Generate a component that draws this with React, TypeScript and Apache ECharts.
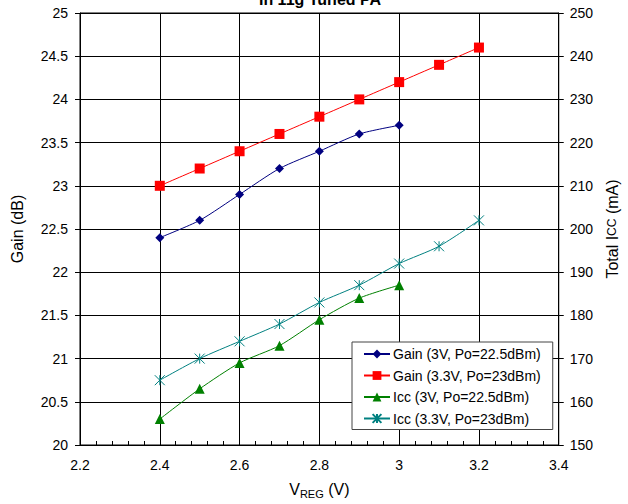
import React, { useEffect, useRef } from "react";
import * as echarts from "echarts";

const vreg = [2.4, 2.5, 2.6, 2.7, 2.8, 2.9, 3.0, 3.1, 3.2];
const gain3V = [22.4, 22.6, 22.9, 23.2, 23.4, 23.6, 23.7];
const gain33V = [23.0, 23.2, 23.4, 23.6, 23.8, 24.0, 24.2, 24.4, 24.6];
const icc3V = [156, 163, 169, 173, 179, 184, 187];
const icc33V = [165, 170, 174, 178, 183, 187, 192, 196, 202];
const seriesNames = [
  "Gain (3V, Po=22.5dBm)",
  "Gain (3.3V, Po=23dBm)",
  "Icc (3V, Po=22.5dBm)",
  "Icc (3.3V, Po=23dBm)",
];
const titleText = "In 11g Tuned PA";

const pair = (ys: number[]) => ys.map((y, i) => [vreg[i], y]);

const FONT = "Liberation Sans, Arial, sans-serif";
const STAR = "path://M0 0L10 10M10 0L0 10M5 0L5 10";

export default function App() {
  const ref = useRef<HTMLDivElement>(null);
  useEffect(() => {
    const chart = echarts.init(ref.current!, null, { renderer: "svg" });
    const mk = (
      name: string,
      data: number[][],
      color: string,
      symbol: string,
      size: number,
      yAxisIndex: number
    ) => ({
      type: "line",
      name,
      data,
      yAxisIndex,
      smooth: 0.25,
      symbol,
      symbolSize: size,
      showSymbol: true,
      lineStyle: { color, width: 1 },
      itemStyle:
        symbol === STAR
          ? { color: "none", borderColor: color, borderWidth: 1 }
          : { color, borderColor: color, borderWidth: 0 },
      emphasis: { disabled: true },
    });
    chart.setOption({
      animation: false,
      textStyle: { fontFamily: FONT, color: "#000" },
      graphic: [
        {
          type: "text",
          x: 320,
          y: 7,
          style: {
            text: titleText,
            fontFamily: FONT,
            fontSize: 16,
            fontWeight: "bold",
            fill: "#000",
            textAlign: "center",
            textVerticalAlign: "bottom",
          },
          z: 100,
        },
      ],
      grid: {
        left: 80,
        right: 66,
        top: 13,
        bottom: 59,
        show: true,
        borderColor: "#000",
        borderWidth: 1,
      },
      legend: {
        orient: "vertical",
        left: 352,
        top: 342,
        padding: [5, 12, 4, 11],
        itemGap: 7.5,
        itemWidth: 26,
        itemHeight: 11,
        backgroundColor: "#fff",
        borderColor: "#444",
        borderWidth: 1,
        textStyle: {
          fontFamily: FONT,
          fontSize: 14,
          lineHeight: 14,
          color: "#000",
          padding: [0, 0, 0, -2],
        },
        data: seriesNames,
      },
      xAxis: {
        type: "value",
        min: 2.2,
        max: 3.4,
        interval: 0.2,
        name: "{a|V}{b|REG}{a| (V)}",
        nameLocation: "middle",
        nameGap: 35,
        nameTextStyle: {
          rich: {
            a: { fontFamily: FONT, fontSize: 16, color: "#000" },
            b: { fontFamily: FONT, fontSize: 11, color: "#000", padding: [8, 0, 0, 0] },
          },
        },
        axisLine: { lineStyle: { color: "#000", width: 1 } },
        axisTick: { show: true, inside: true, length: 6, lineStyle: { color: "#000" } },
        minorTick: { show: true, splitNumber: 5, length: 4, lineStyle: { color: "#000" } },
        axisLabel: {
          fontFamily: FONT,
          fontSize: 14,
          color: "#000",
          margin: 13,
          formatter: (v: number) => String(+v.toFixed(1)),
        },
        splitLine: { show: true, lineStyle: { color: "#000", width: 1 } },
      },
      yAxis: [
        {
          type: "value",
          min: 20,
          max: 25,
          interval: 0.5,
          name: "Gain (dB)",
          nameLocation: "middle",
          nameGap: 55,
          nameTextStyle: { fontFamily: FONT, fontSize: 16, color: "#000" },
          axisLine: { show: true, lineStyle: { color: "#000", width: 1 } },
          axisTick: { show: true, length: 5, lineStyle: { color: "#000" } },
          axisLabel: {
            fontFamily: FONT,
            fontSize: 14,
            color: "#000",
            margin: 12,
            formatter: (v: number) => String(+v.toFixed(1)),
          },
          splitLine: { show: true, lineStyle: { color: "#000", width: 1 } },
        },
        {
          type: "value",
          position: "right",
          min: 150,
          max: 250,
          interval: 10,
          name: "{a|Total I}{b|CC}{a| (mA)}",
          nameLocation: "middle",
          nameGap: 38,
          nameRotate: 90,
          nameTextStyle: {
            rich: {
              a: { fontFamily: FONT, fontSize: 16, color: "#000" },
              b: { fontFamily: FONT, fontSize: 12, color: "#000" },
            },
          },
          axisLine: { show: true, lineStyle: { color: "#000", width: 1 } },
          axisTick: { show: true, length: 5, lineStyle: { color: "#000" } },
          axisLabel: { fontFamily: FONT, fontSize: 14, color: "#000", margin: 11 },
          splitLine: { show: false },
        },
      ],
      series: [
        mk(seriesNames[0], pair(gain3V), "#000080", "diamond", 9, 0),
        mk(seriesNames[1], pair(gain33V), "#FF0000", "rect", 10, 0),
        mk(seriesNames[2], pair(icc3V), "#008000", "triangle", 10, 1),
        mk(seriesNames[3], pair(icc33V), "#008080", STAR, 10, 1),
      ],
    });
    return () => chart.dispose();
  }, []);
  return (
    <div
      ref={ref}
      style={{ position: "absolute", left: 0, top: 0, width: 628, height: 504 }}
    />
  );
}
